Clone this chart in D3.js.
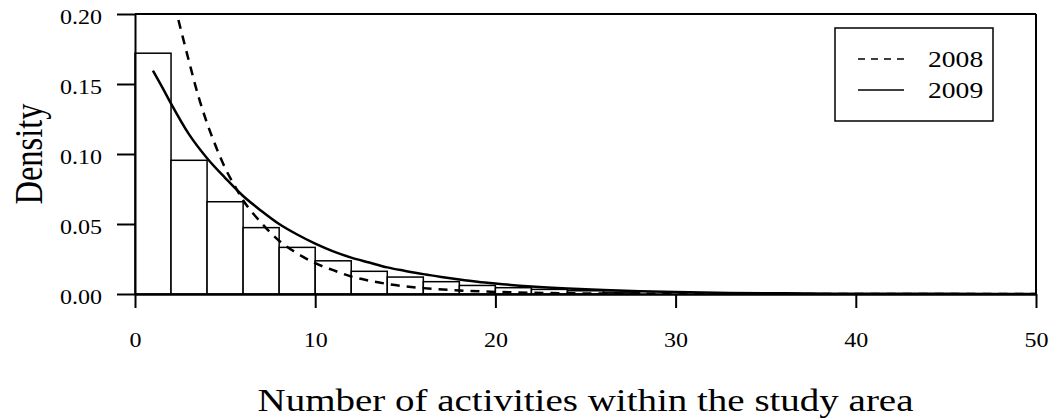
<!DOCTYPE html>
<html>
<head>
<meta charset="utf-8">
<script src="https://cdn.jsdelivr.net/npm/d3@7"></script>
<style>
  body { margin: 0; background: #fff; }
  svg text { font-family: "Liberation Serif", "Times New Roman", serif; fill: #000; }
</style>
</head>
<body>
<script>
// histogram bins (lower edge, width 2) and densities
const binStarts = [0, 2, 4, 6, 8, 10, 12, 14, 16, 18, 20, 22, 24, 26];
const binDensity = [0.172, 0.0955, 0.0659, 0.0474, 0.0333, 0.0237, 0.0162, 0.0121, 0.0088, 0.0061, 0.0045, 0.0033, 0.0023, 0.0013];
const binWidth = 2;

// fitted density curves
const x2008 = [2.41, 2.7, 3.0, 3.5, 4.0, 4.5, 5.0, 5.5, 6.0, 7.0, 8.0, 9.0, 10.0, 11.0, 12.0, 13.0, 14.0, 16.0, 18.0, 20.0, 22.0, 25.0, 28.0, 32.0, 36.0, 40.0, 50.0];
const y2008 = [0.1957, 0.181, 0.166, 0.142, 0.122, 0.105, 0.090, 0.078, 0.067, 0.051, 0.038, 0.029, 0.022, 0.017, 0.0125, 0.0095, 0.0072, 0.0042, 0.0025, 0.0015, 0.0009, 0.0004, 0.0002, 0.0001, 0.00005, 0.00002, 0.0];

const x2009 = [1.0, 1.5, 2.0, 3.0, 4.0, 5.0, 6.0, 7.0, 8.0, 9.0, 10.0, 11.0, 12.0, 13.0, 14.0, 15.0, 16.0, 17.0, 18.0, 19.0, 20.0, 22.0, 24.0, 26.0, 28.0, 30.0, 33.0, 36.0, 40.0, 45.0, 50.0];
const y2009 = [0.1595, 0.148, 0.136, 0.114, 0.097, 0.083, 0.070, 0.0595, 0.050, 0.0425, 0.036, 0.0305, 0.026, 0.0225, 0.019, 0.0165, 0.0142, 0.0122, 0.0104, 0.0088, 0.0075, 0.0054, 0.0039, 0.0028, 0.0020, 0.0014, 0.0008, 0.0005, 0.0002, 0.0001, 0.00005];

const xTicks = [0, 10, 20, 30, 40, 50];
const yTicks = [0.00, 0.05, 0.10, 0.15, 0.20];
const seriesNames = ["2008", "2009"];

const width = 1053, height = 420;
const margin = {top: 14, right: 17, bottom: 126, left: 135};
// the original is a little wider than tall in its glyphs
const stretch = 1.2;

const svg = d3.select("body").append("svg")
    .attr("width", width)
    .attr("height", height);

const x = d3.scaleLinear().domain([0, 50]).range([margin.left, width - margin.right]);
const y = d3.scaleLinear().domain([0, 0.2]).range([height - margin.bottom, margin.top]);

// clip to plot region
svg.append("clipPath").attr("id", "plotclip")
  .append("rect")
    .attr("x", x(0)).attr("y", y(0.2))
    .attr("width", x(50) - x(0)).attr("height", y(0) - y(0.2));

// histogram bars
svg.append("g").selectAll("rect")
    .data(binStarts)
    .enter().append("rect")
    .attr("x", (d) => x(d))
    .attr("y", (d, i) => y(binDensity[i]))
    .attr("width", (d) => x(d + binWidth) - x(d))
    .attr("height", (d, i) => y(0) - y(binDensity[i]))
    .attr("fill", "#fff")
    .attr("stroke", "#000")
    .attr("stroke-width", 1.5);

// curves
const line = d3.line()
    .x((d) => x(d[0]))
    .y((d) => y(d[1]))
    .curve(d3.curveMonotoneX);

const curves = svg.append("g").attr("clip-path", "url(#plotclip)");
curves.append("path")
    .attr("d", line(d3.zip(x2008, y2008)))
    .attr("fill", "none").attr("stroke", "#000")
    .attr("stroke-width", 2.5)
    .attr("stroke-dasharray", "9,7");
curves.append("path")
    .attr("d", line(d3.zip(x2009, y2009)))
    .attr("fill", "none").attr("stroke", "#000")
    .attr("stroke-width", 2.5);

// y axis
const yAxis = svg.append("g")
    .attr("transform", "translate(" + x(0) + ",0)")
    .call(d3.axisLeft(y).tickValues(yTicks).tickFormat(d3.format(".2f")).tickSize(18).tickSizeOuter(0));
yAxis.select(".domain").attr("stroke-width", 2);
yAxis.selectAll(".tick line").attr("stroke-width", 2);
yAxis.selectAll(".tick text")
    .attr("x", 0)
    .attr("dy", "0.36em")
    .attr("transform", "translate(-33,2) scale(" + stretch + ",1)")
    .style("font-size", "20px")
    .style("font-family", "Liberation Serif");

// x axis
const xAxis = svg.append("g")
    .attr("transform", "translate(0," + y(0) + ")")
    .call(d3.axisBottom(x).tickValues(xTicks).tickFormat(d3.format("d")).tickSize(14).tickSizeOuter(0));
xAxis.select(".domain").attr("stroke-width", 2.5);
xAxis.selectAll(".tick line").attr("stroke-width", 2);
xAxis.selectAll(".tick text")
    .attr("y", 0)
    .attr("dy", null)
    .attr("transform", "translate(0,53) scale(" + stretch + ",1)")
    .style("font-size", "20px")
    .style("font-family", "Liberation Serif");

// top and right frame lines
svg.append("line")
    .attr("x1", x(0)).attr("x2", x(50))
    .attr("y1", y(0.2)).attr("y2", y(0.2))
    .attr("stroke", "#000").attr("stroke-width", 2);
svg.append("line")
    .attr("x1", x(50)).attr("x2", x(50))
    .attr("y1", y(0.2)).attr("y2", y(0))
    .attr("stroke", "#000").attr("stroke-width", 2);

// axis titles
svg.append("text")
    .attr("transform", "translate(" + ((x(0) + x(50)) / 2) + ",411) scale(" + stretch + ",1)")
    .attr("text-anchor", "middle")
    .style("font-size", "32.5px")
    .text("Number of activities within the study area");

svg.append("text")
    .attr("transform", "translate(42," + y(0.1) + ") scale(" + stretch + ",1) rotate(-90)")
    .attr("text-anchor", "middle")
    .style("font-size", "32.5px")
    .text("Density");

// legend
const legend = svg.append("g");
legend.append("rect")
    .attr("x", 835).attr("y", 28)
    .attr("width", 158).attr("height", 93)
    .attr("fill", "#fff").attr("stroke", "#000").attr("stroke-width", 1.5);

const legendRows = legend.selectAll(".row")
    .data(seriesNames)
    .enter().append("g")
    .attr("class", "row")
    .attr("transform", (d, i) => "translate(0," + (59 + i * 31) + ")");
legendRows.append("line")
    .attr("x1", 858).attr("x2", 904)
    .attr("stroke", "#000").attr("stroke-width", 1.5)
    .attr("stroke-dasharray", (d, i) => i === 0 ? "7,6" : null);
legendRows.append("text")
    .attr("transform", "translate(928,8) scale(" + stretch + ",1)")
    .style("font-size", "23px")
    .text((d) => d);
</script>
</body>
</html>
